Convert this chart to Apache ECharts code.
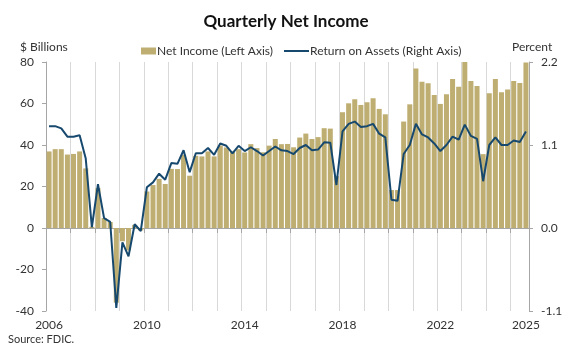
<!DOCTYPE html>
<html>
<head>
<meta charset="utf-8">
<script src="https://cdn.jsdelivr.net/npm/echarts@6/dist/echarts.min.js"></script>
<style>
html,body{margin:0;padding:0;background:#fff;}
#c{width:572px;height:350px;}
</style>
</head>
<body>
<div id="c"></div>
<script>
var years = ['2006','2007','2008','2009','2010','2011','2012','2013','2014','2015','2016','2017','2018','2019','2020','2021','2022','2023','2024','2025'];
var quarterNames = ['Q1','Q2','Q3','Q4'];
var lastYearQuarters = 3;
var xLabelYears = ['2006','2010','2014','2018','2022','2025'];

var netIncome = [
  36.9, 38.0, 38.0, 35.4,
  35.7, 36.9, 28.7, 0.6,
  19.2, 4.8, 2.9, -36.0,
  -6.4, -10.8, 1.5, -1.2,
  17.6, 20.7, 23.7, 21.2,
  28.5, 28.4, 35.3, 25.2,
  34.8, 34.5, 36.9, 34.5,
  39.7, 38.8, 36.9, 38.0,
  36.4, 40.4, 38.5, 36.5,
  39.7, 42.9, 40.4, 40.5,
  38.9, 43.6, 45.5, 42.9,
  43.8, 48.1, 47.9, 25.0,
  55.8, 60.1, 62.0, 59.3,
  60.6, 62.5, 57.4, 54.8,
  18.3, 18.3, 51.3, 59.6,
  76.9, 70.5, 69.7, 64.1,
  59.8, 64.4, 71.8, 68.1,
  80.1, 70.8, 68.4, 35.6,
  64.9, 71.8, 65.4, 66.8,
  70.8, 69.9, 79.8
];

var roa = [
  1.35, 1.35, 1.32, 1.21,
  1.21, 1.23, 0.92, 0.01,
  0.58, 0.13, 0.08, -1.06,
  -0.19, -0.375, 0.05, -0.04,
  0.54, 0.605, 0.72, 0.64,
  0.86, 0.85, 1.03, 0.74,
  0.99, 0.99, 1.06, 0.97,
  1.12, 1.09, 0.99, 1.09,
  1.02, 1.07, 1.02, 0.96,
  1.02, 1.08, 1.03, 1.02,
  0.98, 1.06, 1.10, 1.03,
  1.04, 1.135, 1.13, 0.57,
  1.28, 1.38, 1.41, 1.34,
  1.35, 1.38, 1.25, 1.20,
  0.375, 0.36, 0.98, 1.10,
  1.38, 1.24, 1.20, 1.12,
  1.02, 1.10, 1.21, 1.17,
  1.37, 1.22, 1.18, 0.62,
  1.10, 1.20, 1.10, 1.10,
  1.16, 1.14, 1.28
];

var leftTicks = {min: -40, max: 80, interval: 20};
var rightTicks = {min: -1.1, max: 2.2, interval: 1.1};

var categories = [];
years.forEach(function (y, yi) {
  var n = (yi === years.length - 1) ? lastYearQuarters : 4;
  for (var q = 0; q < n; q++) categories.push(y + quarterNames[q]);
});
var lastIndex = categories.length - 1;

var FONT = 'Lato';
var TXT = '#333333';
var BAR = '#BFAE72';
var LINE = '#17496F';
var GRIDC = '#D9D9D9';
var AXC = '#A6A6A6';

var chart = echarts.init(document.getElementById('c'), null, {renderer: 'canvas'});
chart.setOption({
  animation: false,
  backgroundColor: '#ffffff',
  textStyle: {fontFamily: FONT},
  title: {
    text: 'Quarterly Net Income',
    left: 'center', top: 8,
    textStyle: {fontFamily: FONT, fontSize: 17, fontWeight: 'bold', color: '#111111'}
  },
  legend: [{
    left: 136, top: 40,
    itemWidth: 15, itemHeight: 7, itemGap: 4,
    icon: 'rect',
    textStyle: {fontFamily: FONT, fontSize: 12, color: TXT, padding: [0,0,0,-4]},
    data: ['Net Income (Left Axis)']
  }, {
    left: 279, top: 40,
    itemWidth: 25, itemHeight: 2,
    icon: 'rect',
    textStyle: {fontFamily: FONT, fontSize: 12, color: TXT, padding: [0,0,0,-4]},
    data: ['Return on Assets (Right Axis)']
  }],
  graphic: [
    {type: 'text', left: 20, top: 41, style: {text: '$ Billions', font: '12px Lato', fill: TXT}},
    {type: 'text', left: 512, top: 41, style: {text: 'Percent', font: '12px Lato', fill: TXT}},
    {type: 'text', left: 8, top: 334, style: {text: 'Source: FDIC.', font: '11px Lato', fill: TXT}}
  ],
  grid: {left: 46, right: 43, top: 62, bottom: 39, containLabel: false},
  xAxis: [{
    type: 'category',
    data: categories,
    boundaryGap: true,
    axisLine: {show: true, onZero: true, lineStyle: {color: AXC, width: 1}},
    axisTick: {show: true, interval: 3, length: 5, lineStyle: {color: AXC}},
    axisLabel: {show: false},
    splitLine: {show: true, interval: 3, lineStyle: {color: GRIDC, width: 1}}
  }, {
    type: 'category',
    data: categories,
    boundaryGap: true,
    position: 'bottom',
    axisLine: {show: false, onZero: false},
    axisTick: {show: false},
    splitLine: {show: false},
    axisLabel: {
      show: true,
      margin: 8,
      fontFamily: FONT, fontSize: 12, color: TXT,
      interval: function (index, value) {
        return (index === lastIndex) || (index % 16 === 0 && xLabelYears.indexOf(value.slice(0,4)) >= 0);
      },
      formatter: function (value) { return value.slice(0, 4); }
    }
  }],
  yAxis: [{
    type: 'value',
    position: 'left',
    min: leftTicks.min, max: leftTicks.max, interval: leftTicks.interval,
    axisLine: {show: true, lineStyle: {color: AXC}},
    axisTick: {show: true, length: 4, lineStyle: {color: AXC}},
    splitLine: {show: false},
    axisLabel: {margin: 12, fontFamily: FONT, fontSize: 12, color: TXT}
  }, {
    type: 'value',
    position: 'right',
    min: rightTicks.min, max: rightTicks.max, interval: rightTicks.interval,
    axisLine: {show: true, lineStyle: {color: AXC}},
    axisTick: {show: true, length: 4, lineStyle: {color: AXC}},
    splitLine: {show: false},
    axisLabel: {
      margin: 12, fontFamily: FONT, fontSize: 12, color: TXT,
      formatter: function (v) { return (Math.round(v * 10) / 10).toFixed(1); }
    }
  }],
  series: [{
    name: 'Net Income (Left Axis)',
    type: 'bar',
    xAxisIndex: 0, yAxisIndex: 0,
    data: netIncome,
    barCategoryGap: '18%',
    itemStyle: {color: BAR},
    z: 2
  }, {
    name: 'Return on Assets (Right Axis)',
    type: 'line',
    xAxisIndex: 0, yAxisIndex: 1,
    data: roa,
    symbol: 'none',
    lineStyle: {color: LINE, width: 2},
    itemStyle: {color: LINE},
    z: 3
  }]
});
</script>
</body>
</html>
